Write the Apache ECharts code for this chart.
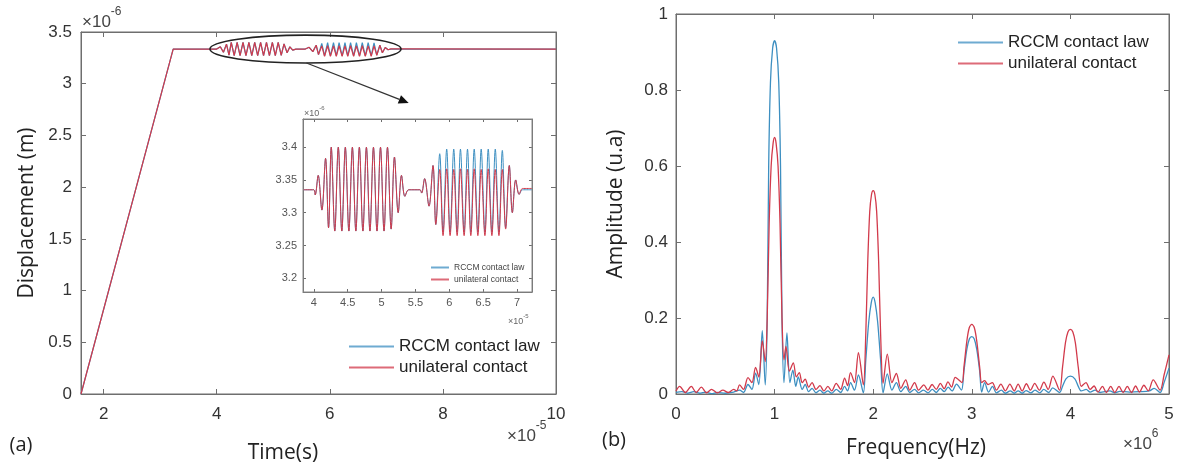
<!DOCTYPE html>
<html>
<head>
<meta charset="utf-8">
<script src="https://cdn.jsdelivr.net/npm/echarts@6/dist/echarts.min.js"></script>
<style>
html,body{margin:0;padding:0;background:#fff;}
#c{width:1182px;height:468px;}
</style>
</head>
<body>
<div id="c"></div>
<script>
// ---------------- DATA ----------------
// Time axis in units of 1e-5 s, displacement in units of 1e-6 m
const rampTime = [1.6, 3.23];
const rampDisp = [0, 3.335];
const endTime = [10];
const endDisp = [3.335];

// First excitation burst (both models coincide)
const burst1Time = [3.84, 4.00, 4.020, 4.064, 4.119, 4.173, 4.217,
  4.257, 4.309, 4.361, 4.413, 4.465, 4.517, 4.569, 4.620, 4.672, 4.724, 4.776, 4.828, 4.880, 4.932, 4.984, 5.036, 5.087,
  5.141, 5.190, 5.245, 5.294, 5.344, 5.40, 5.566];
const burst1Disp = [3.335, 3.335, 3.327, 3.357, 3.304, 3.383, 3.277,
  3.400, 3.272, 3.400, 3.272, 3.400, 3.272, 3.400, 3.272, 3.400, 3.272, 3.400, 3.272, 3.400, 3.272, 3.400, 3.272, 3.400,
  3.275, 3.385, 3.300, 3.357, 3.325, 3.335, 3.335];

// Second burst
const burst2Time = [5.591, 5.635, 5.700, 5.759, 5.800,
  5.858, 5.907, 5.961, 6.011, 6.065, 6.115, 6.164, 6.218, 6.268, 6.317, 6.367, 6.421, 6.470, 6.525, 6.574, 6.628, 6.678, 6.732, 6.782,
  6.831, 6.885, 6.930, 6.980, 7.030, 7.080, 7.22];
const burst2DispRCCM = [3.330, 3.352, 3.310, 3.372, 3.282,
  3.390, 3.270, 3.397, 3.270, 3.397, 3.270, 3.397, 3.270, 3.397, 3.270, 3.397, 3.270, 3.397, 3.270, 3.397, 3.270, 3.397, 3.270, 3.395,
  3.277, 3.372, 3.300, 3.350, 3.328, 3.335, 3.335];
const burst2DispUnilateral = [3.330, 3.352, 3.310, 3.372, 3.282,
  3.366, 3.265, 3.367, 3.265, 3.366, 3.265, 3.367, 3.265, 3.366, 3.265, 3.367, 3.265, 3.366, 3.265, 3.367, 3.265, 3.366, 3.265, 3.366,
  3.275, 3.372, 3.300, 3.350, 3.328, 3.337, 3.337];

// Spectra: [frequency (1e6 Hz), amplitude]
const rccmSpectrum = [
  [0.0,0.004],[0.06,0.006],[0.12,0.002],[0.18,0.006],[0.24,0.002],[0.3,0.005],[0.36,0.001],[0.42,0.004],[0.5,0.002],
  [0.585,0.005],[0.645,0.01],[0.685,0.004],[0.73,0.025],[0.77,0.012],[0.807,0.055],[0.84,0.025],[0.875,0.167],[0.905,0.024],
  [0.925,0.2],[0.94,0.6],[0.958,0.82],[0.98,0.91],[1.0,0.93],[1.02,0.91],[1.042,0.82],[1.06,0.6],[1.075,0.2],[1.095,0.03],
  [1.125,0.161],[1.155,0.03],[1.185,0.063],[1.215,0.02],[1.24,0.045],[1.28,0.012],[1.31,0.025],[1.345,0.006],[1.38,0.015],
  [1.42,0.003],[1.46,0.01],[1.5,0.002],[1.54,0.008],[1.58,0.002],[1.625,0.012],[1.67,0.004],[1.71,0.02],[1.74,0.008],
  [1.77,0.03],[1.81,0.01],[1.85,0.05],[1.9,0.003],
  [1.925,0.09],[1.955,0.19],[1.98,0.24],[2.0,0.255],[2.02,0.24],[2.045,0.19],[2.075,0.09],[2.1,0.003],
  [2.143,0.053],[2.19,0.01],[2.235,0.03],[2.28,0.006],[2.33,0.02],[2.37,0.004],[2.42,0.012],[2.46,0.003],
  [2.51,0.01],[2.555,0.003],[2.6,0.012],[2.64,0.004],[2.68,0.015],[2.72,0.006],[2.76,0.018],[2.80,0.008],[2.845,0.026],[2.895,0.01],
  [2.92,0.06],[2.95,0.118],[2.975,0.145],[3.0,0.151],[3.025,0.145],[3.05,0.118],[3.08,0.06],[3.1,0.005],
  [3.13,0.03],[3.17,0.005],[3.21,0.02],[3.25,0.003],[3.3,0.01],[3.34,0.002],[3.39,0.008],[3.43,0.002],[3.47,0.008],[3.51,0.002],
  [3.55,0.009],[3.6,0.003],[3.64,0.01],[3.69,0.003],[3.73,0.012],[3.78,0.004],[3.82,0.016],[3.89,0.004],
  [3.92,0.02],[3.955,0.04],[4.0,0.047],[4.045,0.04],[4.08,0.02],[4.11,0.008],
  [4.16,0.012],[4.2,0.005],[4.25,0.01],[4.3,0.004],[4.4,0.008],[4.45,0.003],[4.5,0.007],[4.6,0.005],[4.7,0.006],[4.8,0.008],
  [4.85,0.015],[4.91,0.004],[4.95,0.03],[5.0,0.068]
];
const unilateralSpectrum = [
  [0.0,0.008],[0.037,0.02],[0.095,0.004],[0.155,0.02],[0.205,0.004],[0.257,0.018],[0.31,0.003],[0.36,0.012],[0.42,0.003],
  [0.476,0.01],[0.53,0.004],[0.585,0.012],[0.615,0.008],[0.645,0.024],[0.685,0.012],[0.73,0.043],[0.77,0.03],[0.807,0.07],
  [0.84,0.045],[0.875,0.14],[0.905,0.085],
  [0.925,0.2],[0.945,0.45],[0.965,0.6],[0.985,0.66],[1.0,0.675],[1.015,0.66],[1.035,0.6],[1.055,0.45],[1.075,0.2],[1.095,0.09],
  [1.115,0.125],[1.15,0.06],[1.19,0.082],[1.22,0.045],[1.25,0.056],[1.28,0.03],[1.31,0.039],[1.345,0.018],[1.38,0.03],
  [1.42,0.012],[1.46,0.022],[1.50,0.008],[1.54,0.02],[1.58,0.008],[1.625,0.028],[1.67,0.012],[1.71,0.042],[1.74,0.022],
  [1.77,0.056],[1.81,0.03],[1.85,0.109],[1.9,0.024],
  [1.925,0.16],[1.945,0.35],[1.965,0.48],[1.983,0.525],[2.0,0.535],[2.017,0.525],[2.035,0.48],[2.055,0.35],[2.075,0.16],[2.1,0.028],
  [2.143,0.105],[2.19,0.03],[2.235,0.054],[2.28,0.015],[2.33,0.037],[2.37,0.01],[2.42,0.03],[2.46,0.01],
  [2.513,0.024],[2.555,0.01],[2.597,0.025],[2.64,0.012],[2.681,0.028],[2.72,0.014],[2.758,0.032],[2.795,0.018],[2.832,0.044],[2.9,0.03],
  [2.92,0.07],[2.95,0.14],[2.975,0.175],[3.0,0.183],[3.025,0.175],[3.05,0.14],[3.08,0.07],[3.1,0.03],
  [3.13,0.035],[3.165,0.025],[3.208,0.03],[3.25,0.01],[3.295,0.026],[3.34,0.008],[3.386,0.026],[3.43,0.008],[3.47,0.026],[3.51,0.008],
  [3.554,0.027],[3.595,0.01],[3.638,0.028],[3.685,0.01],[3.731,0.031],[3.775,0.012],[3.822,0.047],[3.89,0.01],
  [3.92,0.07],[3.95,0.135],[3.975,0.163],[4.0,0.17],[4.025,0.163],[4.05,0.135],[4.08,0.07],[4.11,0.02],
  [4.158,0.03],[4.2,0.012],[4.24,0.021],[4.28,0.005],[4.325,0.02],[4.365,0.004],[4.409,0.02],[4.45,0.004],[4.493,0.02],[4.535,0.004],
  [4.577,0.02],[4.62,0.004],[4.661,0.021],[4.7,0.005],[4.745,0.023],[4.79,0.008],[4.84,0.037],[4.91,0.01],[4.95,0.05],[5.0,0.103]
];

const seriesNames = ['RCCM contact law', 'unilateral contact'];
const timeTicks = [2, 4, 6, 8, 10];
const insetTimeTicks = [4, 4.5, 5, 5.5, 6, 6.5, 7];
const insetDispTicks = [3.2, 3.25, 3.3, 3.35, 3.4];
const zoomRegion = {t0: 3.88, t1: 7.26, d0: 3.2, d1: 3.47};

// ---------------- BUILD ----------------
const pairs = (t, v) => t.map((x, i) => [x, v[i]]);
const mainRCCM = pairs(rampTime, rampDisp).concat(pairs(burst1Time, burst1Disp), pairs(burst2Time, burst2DispRCCM), pairs(endTime, endDisp));
const mainUni = pairs(rampTime, rampDisp).concat(pairs(burst1Time, burst1Disp), pairs(burst2Time, burst2DispUnilateral), pairs(endTime, endDisp));
const insetRCCM = pairs(burst1Time, burst1Disp).concat(pairs(burst2Time, burst2DispRCCM));
const insetUni = pairs(burst1Time, burst1Disp).concat(pairs(burst2Time, burst2DispUnilateral));

const BLUE = '#3d8fc1';
const RED = '#d23a4b';
const AX = '#6e6e6e';
const LBL = '#333';
const FONT = '"Liberation Sans", Arial, sans-serif';
const TFONT = '"Open Sans", "Noto Sans", sans-serif';

function axisBase(extra) {
  return Object.assign({
    type: 'value',
    axisLine: {show: true, onZero: false, lineStyle: {color: AX, width: 1}},
    splitLine: {show: false},
    axisTick: {show: true, inside: true, length: 5, lineStyle: {color: AX}},
    axisLabel: {color: LBL, fontFamily: FONT, fontSize: 17}
  }, extra);
}
function tickOnly(extra, len, ticks) {
  const o = axisBase(extra);
  o.axisLabel = {show: false};
  o.axisTick = {show: true, inside: true, length: len, lineStyle: {color: AX}};
  if (ticks) { o.axisTick.customValues = ticks; }
  return o;
}
function legendBox(left, top, w, h, gap, fs, color, z) {
  return {
    left: left, top: top, orient: 'vertical', padding: 0, itemWidth: w, itemHeight: h, itemGap: gap, z: z || 4,
    data: seriesNames, selectedMode: false,
    itemStyle: {opacity: 0}, lineStyle: {opacity: 0.75},
    textStyle: {fontFamily: FONT, fontSize: fs, color: color}
  };
}

const option = {
  animation: false,
  backgroundColor: '#fff',
  grid: [
    {left: 81, top: 32, width: 475, height: 362, show: false},
    {left: 303, top: 119, width: 229, height: 173, show: true, backgroundColor: '#fff', borderWidth: 0, z: 3},
    {left: 676, top: 14, width: 493, height: 380, show: false}
  ],
  xAxis: [
    axisBase({gridIndex: 0, min: 1.6, max: 10, position: 'bottom',
      axisTick: {show: true, inside: true, length: 5, lineStyle: {color: AX}, customValues: timeTicks},
      axisLabel: {color: LBL, fontFamily: FONT, fontSize: 17, margin: 12, customValues: timeTicks}}),
    tickOnly({gridIndex: 0, min: 1.6, max: 10, position: 'top'}, 5, timeTicks),
    axisBase({gridIndex: 1, min: 3.84, max: 7.22, position: 'bottom', z: 4,
      axisTick: {show: true, inside: true, length: 3, lineStyle: {color: AX}, customValues: insetTimeTicks},
      axisLabel: {color: '#555', fontFamily: FONT, fontSize: 11, margin: 5, customValues: insetTimeTicks}}),
    tickOnly({gridIndex: 1, min: 3.84, max: 7.22, position: 'top', z: 4}, 3, insetTimeTicks),
    axisBase({gridIndex: 2, min: 0, max: 5, interval: 1, position: 'bottom',
      axisLabel: {color: LBL, fontFamily: FONT, fontSize: 17, margin: 12}}),
    tickOnly({gridIndex: 2, min: 0, max: 5, interval: 1, position: 'top'}, 5)
  ],
  yAxis: [
    axisBase({gridIndex: 0, min: 0, max: 3.5, interval: 0.5, position: 'left',
      axisLabel: {color: LBL, fontFamily: FONT, fontSize: 17, margin: 9}}),
    tickOnly({gridIndex: 0, min: 0, max: 3.5, interval: 0.5, position: 'right'}, 5),
    axisBase({gridIndex: 1, min: 3.179, max: 3.443, position: 'left', z: 4,
      axisTick: {show: true, inside: true, length: 3, lineStyle: {color: AX}, customValues: insetDispTicks},
      axisLabel: {color: '#555', fontFamily: FONT, fontSize: 11, margin: 6, customValues: insetDispTicks}}),
    tickOnly({gridIndex: 1, min: 3.179, max: 3.443, position: 'right', z: 4}, 3, insetDispTicks),
    axisBase({gridIndex: 2, min: 0, max: 1, interval: 0.2, position: 'left',
      axisLabel: {color: LBL, fontFamily: FONT, fontSize: 17, margin: 8}}),
    tickOnly({gridIndex: 2, min: 0, max: 1, interval: 0.2, position: 'right'}, 5)
  ],
  legend: [
    legendBox(348, 338, 45, 14, 4, 17, '#222'),
    legendBox(957, 34, 45, 14, 4, 17, '#222'),
    legendBox(430, 263, 18, 8, 3, 8.5, '#444', 6)
  ],
  series: [
    {name: seriesNames[0], type: 'line', xAxisIndex: 0, yAxisIndex: 0, data: mainRCCM, symbol: 'none',
      lineStyle: {color: BLUE, width: 1.2}, itemStyle: {color: BLUE}},
    {name: seriesNames[1], type: 'line', xAxisIndex: 0, yAxisIndex: 0, data: mainUni, symbol: 'none',
      lineStyle: {color: RED, width: 1.2}, itemStyle: {color: RED}},
    {name: seriesNames[0], type: 'line', xAxisIndex: 2, yAxisIndex: 2, data: insetRCCM, symbol: 'none', smooth: 0.35, z: 5,
      lineStyle: {color: BLUE, width: 1}, itemStyle: {color: BLUE}},
    {name: seriesNames[1], type: 'line', xAxisIndex: 2, yAxisIndex: 2, data: insetUni, symbol: 'none', smooth: 0.35, z: 5,
      lineStyle: {color: RED, width: 1}, itemStyle: {color: RED}},
    {name: seriesNames[0], type: 'line', xAxisIndex: 4, yAxisIndex: 4, data: rccmSpectrum, symbol: 'none', smooth: 0.3,
      lineStyle: {color: BLUE, width: 1.3}, itemStyle: {color: BLUE}},
    {name: seriesNames[1], type: 'line', xAxisIndex: 4, yAxisIndex: 4, data: unilateralSpectrum, symbol: 'none', smooth: 0.3,
      lineStyle: {color: RED, width: 1.3}, itemStyle: {color: RED}}
  ]
};

function powerText(x, y, exp, size, color) {
  return {
    type: 'text', x: x, y: y, z: 10,
    style: {
      text: '{a|×10}{b|' + exp + '}',
      fill: color, font: size + 'px ' + FONT,
      rich: {
        a: {fontSize: size, fontFamily: FONT, fill: color, lineHeight: Math.round(size * 1.45), verticalAlign: 'bottom'},
        b: {fontSize: Math.round(size * 0.72), fontFamily: FONT, fill: color, lineHeight: Math.round(size * 0.72), verticalAlign: 'top'}
      },
      verticalAlign: 'middle'
    }
  };
}
function label(x, y, text, size, rot) {
  return {
    type: 'text', x: x, y: y, rotation: rot || 0, z: 10,
    style: {text: text, font: size + 'px ' + TFONT, fill: '#222', align: 'center', verticalAlign: 'middle'}
  };
}

const chart = echarts.init(document.getElementById('c'));
chart.setOption(option);

// annotations: ellipse around zoomed region + arrow to inset
const pA = chart.convertToPixel({xAxisIndex: 0, yAxisIndex: 0}, [zoomRegion.t0, zoomRegion.d1]);
const pB = chart.convertToPixel({xAxisIndex: 0, yAxisIndex: 0}, [zoomRegion.t1, zoomRegion.d0]);
const cx = (pA[0] + pB[0]) / 2, cy = (pA[1] + pB[1]) / 2;
const rx = (pB[0] - pA[0]) / 2, ry = (pB[1] - pA[1]) / 2;
const insetTop = chart.convertToPixel({xAxisIndex: 2, yAxisIndex: 2}, [5.4, 3.443]);
const sx = cx + 1, sy = cy + ry;
const ex = insetTop[0], ey = insetTop[1] - 16;
const ang = Math.atan2(ey - sy, ex - sx);
const hl = 10, hw = 4.5;
const bx = ex - hl * Math.cos(ang), by = ey - hl * Math.sin(ang);
const head = [[ex, ey], [bx + hw * Math.sin(ang), by - hw * Math.cos(ang)], [bx - hw * Math.sin(ang), by + hw * Math.cos(ang)]];

chart.setOption({
  graphic: [
    {type: 'rect', shape: {x: 81, y: 32, width: 475, height: 362}, style: {fill: null, stroke: AX, lineWidth: 1}, z: 1, silent: true},
    {type: 'rect', shape: {x: 676, y: 14, width: 493, height: 380}, style: {fill: null, stroke: AX, lineWidth: 1}, z: 1, silent: true},
    {type: 'rect', shape: {x: 303, y: 119, width: 229, height: 173}, style: {fill: null, stroke: '#888', lineWidth: 1}, z: 9, silent: true},
    {type: 'ellipse', shape: {cx: cx, cy: cy, rx: rx, ry: ry}, style: {fill: null, stroke: '#222', lineWidth: 1.6}, z: 8},
    {type: 'line', shape: {x1: sx, y1: sy, x2: bx, y2: by}, style: {stroke: '#333', lineWidth: 1.2}, z: 8},
    {type: 'polygon', shape: {points: head}, style: {fill: '#111'}, z: 8},
    powerText(82, 18, '-6', 17, '#444'),
    powerText(507, 432, '-5', 17, '#444'),
    powerText(1123, 440, '6', 17, '#444'),
    powerText(304, 112, '-6', 9, '#666'),
    powerText(508, 320, '-5', 9, '#666'),
    label(21, 445, '(a)', 20),
    label(614, 440, '(b)', 20),
    label(283, 453, 'Time(s)', 21),
    label(916, 448, 'Frequency(Hz)', 21),
    label(27, 213, 'Displacement (m)', 21, Math.PI / 2),
    label(616, 204, 'Amplitude (u.a)', 21, Math.PI / 2)
  ]
});
</script>
</body>
</html>
